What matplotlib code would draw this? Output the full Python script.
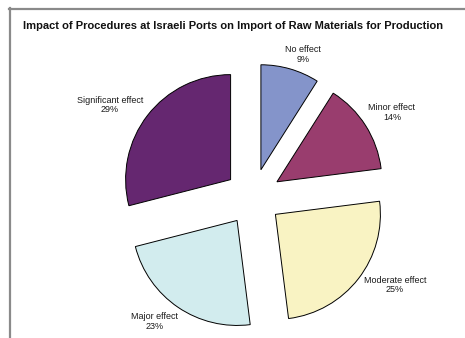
import numpy as np
import matplotlib
matplotlib.use("Agg")
import matplotlib.pyplot as plt
from matplotlib.lines import Line2D

categories = ["No effect", "Minor effect", "Moderate effect", "Major effect", "Significant effect"]
values = [9, 14, 25, 23, 29]
colors = ["#8494CA", "#993D6E", "#F9F3C3", "#D2ECEE", "#652770"]
title = "Impact of Procedures at Israeli Ports on Import of Raw Materials for Production"

plt.rcParams["font.family"] = ["Liberation Sans", "DejaVu Sans"]

W, H = 465, 338
fig = plt.figure(figsize=(W / 100, H / 100), dpi=100)
ax = fig.add_axes([0, 0, 1, 1])

cx, cy, R = 253, 197, 105
explode_frac = 0.27
wedges, _ = ax.pie(values, colors=colors, startangle=90, counterclock=False,
                   explode=[explode_frac] * len(values),
                   wedgeprops=dict(edgecolor="black", linewidth=0.7))

# label placement (distance from pie centre in radii, angle tweak in degrees)
label_dist = [1.44, 1.55, 1.59, 1.51, 1.62]
label_dang = [-3, -1, 6, -4, 5]
for w, lab, v, d, da in zip(wedges, categories, values, label_dist, label_dang):
    ang = np.deg2rad((w.theta1 + w.theta2) / 2 + da)
    ax.text(d * np.cos(ang), d * np.sin(ang), f"{lab}\n{v}%", ha="center", va="center",
            fontsize=6.5, color="#1a1a1a", linespacing=1.1)

ax.set_xlim(-cx / R, (W - cx) / R)
ax.set_ylim((cy - H) / R, cy / R)
ax.set_aspect("auto")
ax.axis("off")

fig.text(233.5 / W, 1 - 26 / H, title, ha="center", va="center", fontsize=8,
         fontweight="bold", color="#111111")

# frame lines
fig.add_artist(Line2D([9 / W, 1], [1 - 8.5 / H] * 2, color="#8a8a8a", linewidth=1.6,
                      transform=fig.transFigure))
fig.add_artist(Line2D([9.5 / W] * 2, [0, 1 - 8 / H], color="#8a8a8a", linewidth=1.6,
                      transform=fig.transFigure))

fig.savefig("out.png", dpi=100)
